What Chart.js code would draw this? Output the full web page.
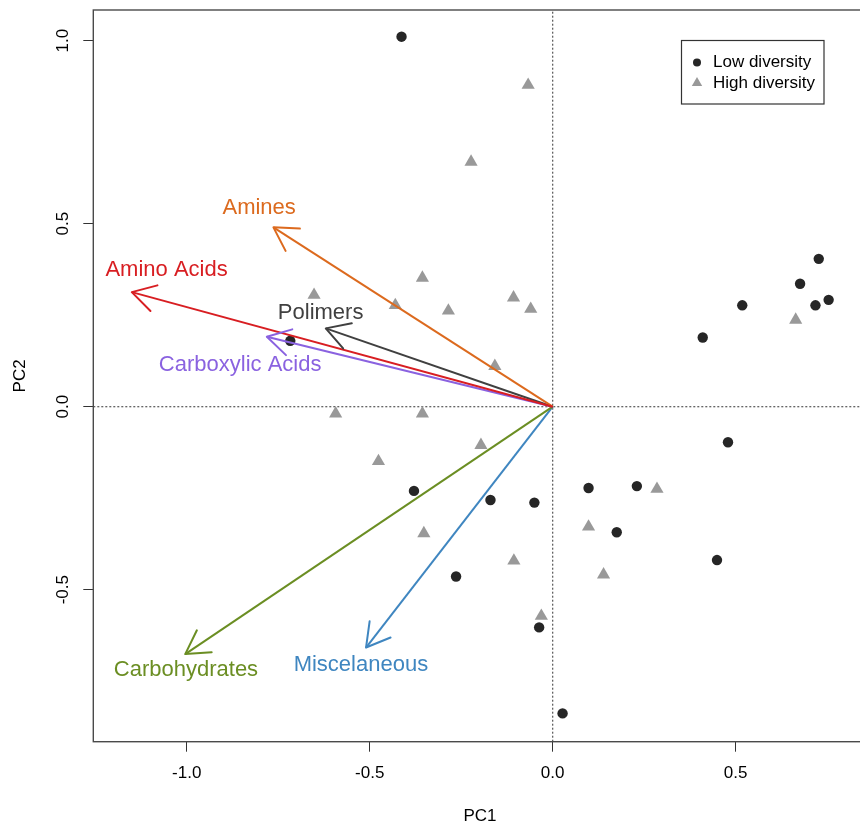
<!DOCTYPE html>
<html><head><meta charset="utf-8">
<script src="https://cdn.jsdelivr.net/npm/chart.js@4.4.0/dist/chart.umd.min.js"></script>
<style>html,body{margin:0;padding:0;background:#fff;overflow:hidden;} #wrap{width:860px;height:830px;overflow:hidden;}</style>
</head><body><div id="wrap"><canvas id="c" width="867" height="830"></canvas></div>
<script>
// ---- data ----
const lowX = [-0.413, -0.717, -0.379, -0.170, -0.050, -0.264, -0.037, 0.027, 0.098, 0.230, 0.175, 0.479, 0.449, 0.410, 0.518, 0.676, 0.727, 0.718, 0.754];
const lowY = [1.011, 0.180, -0.230, -0.255, -0.262, -0.464, -0.603, -0.838, -0.222, -0.217, -0.343, -0.097, -0.419, 0.189, 0.277, 0.336, 0.404, 0.277, 0.292];
const highX = [-0.067, -0.223, -0.356, -0.652, -0.430, -0.285, -0.107, -0.060, -0.158, -0.593, -0.356, -0.196, -0.476, -0.352, -0.106, -0.031, 0.098, 0.139, 0.285, 0.664];
const highY = [0.879, 0.669, 0.352, 0.305, 0.277, 0.262, 0.298, 0.267, 0.111, -0.019, -0.019, -0.105, -0.149, -0.346, -0.421, -0.572, -0.328, -0.459, -0.225, 0.237];
const variables = ['Amino Acids', 'Amines', 'Polimers', 'Carboxylic Acids', 'Carbohydrates', 'Miscelaneous'];
const arrowX = [-1.150, -0.763, -0.620, -0.781, -1.004, -0.510];
const arrowY = [0.313, 0.490, 0.214, 0.191, -0.676, -0.658];
const labelX = [-1.055, -0.802, -0.634, -0.854, -1.002, -0.524];
const labelY = [0.375, 0.543, 0.256, 0.114, -0.718, -0.706];
const arrowColors = ['#D81E22', '#DC6A1E', '#404040', '#8A62E0', '#6B8E23', '#3F86C0'];
const groupNames = ['Low diversity', 'High diversity'];
const xTicks = [-1.0, -0.5, 0.0, 0.5];
const yTicks = [-0.5, 0.0, 0.5, 1.0];
const xRange = [-1.2552, 0.858];
const yRange = [-0.9153, 1.0839];
const xTitle = 'PC1', yTitle = 'PC2';

const FONT = "'Liberation Sans', Arial, sans-serif";
Chart.defaults.font.family = FONT;
Chart.defaults.color = '#000';

const datasets = [];
variables.forEach((n, i) => {
  datasets.push({
    label: n, showLine: true, data: [{x: 0, y: 0}, {x: arrowX[i], y: arrowY[i]}],
    borderColor: arrowColors[i], borderWidth: 2, pointRadius: 0, order: 1
  });
});
datasets.push({
  label: groupNames[0], data: lowX.map((v, i) => ({x: v, y: lowY[i]})),
  pointStyle: 'circle', pointRadius: 5.2, backgroundColor: '#262626', borderColor: '#262626', borderWidth: 0, order: 2
});
datasets.push({
  label: groupNames[1], data: highX.map((v, i) => ({x: v, y: highY[i]})),
  pointStyle: 'triangle', pointRadius: 7.6, backgroundColor: '#999999', borderColor: '#999999', borderWidth: 0, order: 2
});
datasets.push({
  label: 'h0', showLine: true, data: [{x: xRange[0], y: 0}, {x: xRange[1], y: 0}],
  borderColor: '#555', borderWidth: 1.2, borderDash: [2, 2], pointRadius: 0, order: 3
});
datasets.push({
  label: 'v0', showLine: true, data: [{x: 0, y: yRange[0]}, {x: 0, y: yRange[1]}],
  borderColor: '#555', borderWidth: 1.2, borderDash: [2, 2], pointRadius: 0, order: 3
});

const biplot = {
  id: 'biplot',
  afterDatasetsDraw(chart) {
    const {ctx, scales: {x, y}} = chart;
    ctx.save();
    const x0 = x.getPixelForValue(0), y0 = y.getPixelForValue(0);
    variables.forEach((name, i) => {
      const x1 = x.getPixelForValue(arrowX[i]), y1 = y.getPixelForValue(arrowY[i]);
      const ang = Math.atan2(y0 - y1, x0 - x1);
      const L = 26.5, a = Math.PI / 6;
      ctx.strokeStyle = arrowColors[i]; ctx.lineWidth = 2; ctx.lineCap = 'round'; ctx.lineJoin = 'round';
      ctx.beginPath();
      ctx.moveTo(x1 + L * Math.cos(ang + a), y1 + L * Math.sin(ang + a));
      ctx.lineTo(x1, y1);
      ctx.lineTo(x1 + L * Math.cos(ang - a), y1 + L * Math.sin(ang - a));
      ctx.stroke();
      ctx.fillStyle = arrowColors[i];
      ctx.font = '22px ' + FONT;
      ctx.textAlign = 'center'; ctx.textBaseline = 'middle';
      ctx.fillText(name, x.getPixelForValue(labelX[i]), y.getPixelForValue(labelY[i]));
    });
    ctx.restore();
  },
  afterDraw(chart) {
    const {ctx, chartArea: a} = chart;
    ctx.save();
    ctx.strokeStyle = '#4a4a4a'; ctx.lineWidth = 1.4;
    ctx.strokeRect(a.left, a.top, a.right - a.left, a.bottom - a.top);
    // legend
    const lx = 681.5, ly = 40.5, lw = 142.5, lh = 63.5;
    ctx.fillStyle = '#fff'; ctx.fillRect(lx, ly, lw, lh);
    ctx.strokeStyle = '#333'; ctx.lineWidth = 1.2; ctx.strokeRect(lx, ly, lw, lh);
    const low = chart.data.datasets[variables.length], high = chart.data.datasets[variables.length + 1];
    ctx.fillStyle = low.backgroundColor;
    ctx.beginPath(); ctx.arc(697, 62.5, 4, 0, Math.PI * 2); ctx.fill();
    ctx.fillStyle = high.backgroundColor;
    const r = 6, cx = 697, cy = 83;
    ctx.beginPath();
    ctx.moveTo(cx, cy - r); ctx.lineTo(cx + r * 0.866, cy + r * 0.5); ctx.lineTo(cx - r * 0.866, cy + r * 0.5); ctx.closePath(); ctx.fill();
    ctx.fillStyle = '#000'; ctx.font = '17px ' + FONT; ctx.textAlign = 'left'; ctx.textBaseline = 'middle';
    ctx.fillText(low.label, 713, 62.5);
    ctx.fillText(high.label, 713, 83);
    ctx.restore();
  }
};

new Chart(document.getElementById('c'), {
  type: 'scatter',
  data: {datasets},
  options: {
    responsive: false, devicePixelRatio: 1, animation: false, events: [],
    layout: {autoPadding: false, padding: {top: 10, right: 0.3, left: 0, bottom: 0}},
    plugins: {legend: {display: false}, tooltip: {enabled: false}},
    scales: {
      x: {
        type: 'linear', min: xRange[0], max: xRange[1],
        afterBuildTicks: s => { s.ticks = xTicks.map(v => ({value: v})); },
        afterFit: s => { s.height = 88.3; s.paddingLeft = 0; s.paddingRight = 0; s.paddingTop = 0; s.paddingBottom = 0; },
        grid: {display: true, drawOnChartArea: false, drawTicks: true, tickLength: 10, color: '#333', lineWidth: 1},
        border: {display: false},
        ticks: {font: {size: 17}, color: '#000', padding: 11, maxRotation: 0, callback: v => Number(v).toFixed(1)},
        title: {display: true, text: xTitle, font: {size: 17}, color: '#000', padding: {top: 0, bottom: 3}}
      },
      y: {
        type: 'linear', min: yRange[0], max: yRange[1],
        afterBuildTicks: s => { s.ticks = yTicks.map(v => ({value: v})); },
        afterFit: s => { s.width = 93.3; s.paddingLeft = 0; s.paddingRight = 0; s.paddingTop = 0; s.paddingBottom = 0; },
        grid: {display: true, drawOnChartArea: false, drawTicks: true, tickLength: 10, color: '#333', lineWidth: 1},
        border: {display: false},
        ticks: {font: {size: 17}, color: '#000', padding: 5.4, minRotation: 90, maxRotation: 90, crossAlign: 'center', callback: v => Number(v).toFixed(1)},
        title: {display: true, text: yTitle, font: {size: 17}, color: '#000', padding: {top: 10.3, bottom: 0}}
      }
    }
  },
  plugins: [biplot]
});
</script>
</body></html>
